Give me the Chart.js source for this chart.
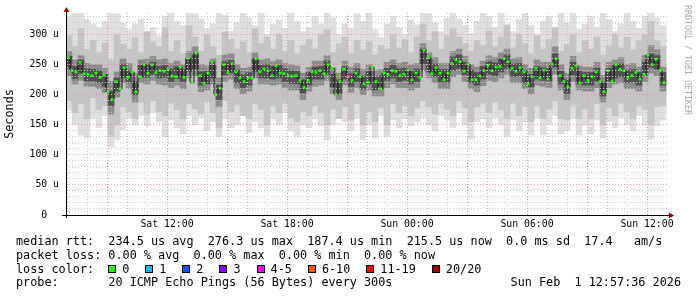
<!DOCTYPE html>
<html>
<head>
<meta charset="utf-8">
<script src="https://cdn.jsdelivr.net/npm/chart.js@4.4.1/dist/chart.umd.min.js"></script>
<style>
  body { margin: 0; background: #fff; }
  #wrap { position: relative; width: 697px; height: 297px; font-family: "DejaVu Sans Mono", monospace; color: #000; }
  #chart { position: absolute; left: 0; top: 0; }
  .ln { position: absolute; left: 16px; font-size: 11.8px; line-height: 14px; white-space: pre; }
  #colors { display: flex; align-items: center; }
  #colors .box { width: 8px; height: 8px; box-sizing: border-box; border: 1px solid #000; margin-right: 6px; }
  #colors .lab { margin-right: 16px; }
  #stamp { position: absolute; right: 16px; top: 275px; font-size: 11.8px; line-height: 14px; white-space: pre; }
  #mark { position: absolute; left: 683px; top: 5px; writing-mode: vertical-rl; font-size: 8.3px; color: #aaa; white-space: pre; }
</style>
</head>
<body>
<div id="wrap">
  <canvas id="chart" width="697" height="297"></canvas>
  <div class="ln" id="l1" style="top:234px"></div>
  <div class="ln" id="l2" style="top:248px"></div>
  <div class="ln" id="colors" style="top:262px"></div>
  <div class="ln" id="l4" style="top:275px"></div>
  <div id="stamp">Sun Feb  1 12:57:36 2026</div>
  <div id="mark">RRDTOOL / TOBI OETIKER</div>
</div>
<script>
// time axis in hours since Sat 00:00
const xStart = 6.95;
const xEnd = 37.0;
const tickHours = [12, 18, 24, 30, 36];
const tickLabels = ["Sat 12:00", "Sat 18:00", "Sun 00:00", "Sun 06:00", "Sun 12:00"];
const yMax = 336;
const yLabelValues = [0, 50, 100, 150, 200, 250, 300];
const yLabels = ["0  ", "50 u", "100 u", "150 u", "200 u", "250 u", "300 u"];

// median rtt (us), one value every 12 minutes starting 07:03
const medianStart = 7.05;
const medianStep = 0.2;
const medianRtt = [
  262, 240, 238, 254, 235, 234, 232, 236, 229, 233,
  205, 192, 222, 210, 245, 229, 238, 205, 230, 250,
  236, 250, 237, 240, 239, 242, 231, 230, 246, 229,
  261, 220, 270, 232, 219, 236, 255, 200,
  211, 250, 237, 252, 238, 228, 222, 228, 228, 260,
  238, 243, 240, 232, 248, 236, 235, 232, 231, 232,
  224, 212, 224, 238, 237, 240, 235, 250, 244, 200,
  222, 243, 230, 224, 236, 230, 218,
  221, 246, 222, 210, 236, 234, 240, 239, 232, 234,
  241, 225, 236, 229, 274, 262, 235, 245, 236, 225,
  236, 252, 258, 255, 239, 251, 225, 225, 231, 240,
  249, 240, 246, 247, 260, 255, 244, 239,
  245, 238, 218, 230, 244, 228, 241, 226, 251, 260,
  232, 222, 213, 244, 248, 220, 232, 224, 230, 238,
  222, 205, 240, 222, 250, 242, 240, 229, 232, 237,
  226, 234, 266, 250, 259, 240, 220
];

// smoke (ping spread, us), one column every 18 minutes starting 07:06
const smokeStart = 7.1;
const smokeStep = 0.3;
const lightHi = [
  330, 336, 337, 325, 318, 312, 322, 337, 335, 320,
  308, 318, 326, 304, 312, 298, 330, 337, 322, 315,
  337, 335, 326, 310, 318, 337, 332, 305, 320, 337,
  328, 315, 337, 300, 318, 325, 310, 337, 322, 305,
  312, 330, 318, 337, 328, 300, 318, 310, 335, 322,
  337, 308, 295, 318, 330, 312, 300, 325, 316, 337,
  337, 320, 305, 328, 337, 326, 315, 302, 322, 337,
  330, 312, 337, 318, 305, 326, 337, 315, 300, 322,
  330, 310, 337, 320, 337, 308, 318, 330, 312, 337,
  325, 305, 318, 337, 322, 310, 330, 337, 328, 315
];
const lightLo = [
  175, 150, 133, 128, 160, 145, 165, 113, 125, 142,
  160, 150, 165, 148, 170, 155, 130, 158, 145, 135,
  165, 150, 162, 140, 155, 130, 160, 145, 150, 168,
  137, 155, 145, 131, 160, 150, 170, 140, 130, 150,
  145, 160, 148, 125, 150, 170, 155, 140, 160, 125,
  150, 128, 165, 130, 158, 145, 160, 148, 155, 162,
  150, 140, 165, 158, 145, 170, 150, 127, 155, 160,
  145, 162, 150, 130, 158, 140, 155, 133, 160, 133,
  150, 165, 135, 140, 160, 133, 150, 135, 158, 128,
  155, 145, 162, 150, 140, 165, 150, 126, 148, 158
];
const midHi = [
  298, 280, 310, 275, 290, 270, 286, 258, 300, 284,
  276, 295, 270, 305, 288, 280, 312, 272, 290, 268,
  315, 296, 272, 300, 280, 266, 304, 292, 276, 288,
  270, 310, 285, 296, 276, 300, 272, 290, 268, 282,
  292, 276, 300, 308, 270, 285, 296, 268, 290, 274,
  288, 266, 282, 276, 300, 278, 292, 270, 296, 318,
  290, 305, 276, 298, 310, 296, 285, 272, 290, 282,
  306, 280, 296, 315, 278, 300, 285, 268, 298, 276,
  292, 312, 272, 284, 300, 270, 290, 276, 296, 266,
  282, 300, 278, 296, 275, 290, 300, 322, 290, 280
];
const midLo = [
  190, 170, 185, 160, 195, 175, 182, 130, 150, 180,
  172, 160, 188, 168, 190, 172, 165, 186, 175, 160,
  185, 176, 168, 188, 170, 145, 190, 172, 184, 165,
  160, 185, 175, 150, 182, 170, 186, 162, 155, 172,
  165, 182, 170, 150, 176, 160, 180, 158, 185, 150,
  172, 155, 178, 150, 185, 170, 182, 165, 178, 190,
  180, 168, 186, 176, 165, 190, 178, 155, 180, 186,
  170, 188, 175, 160, 186, 165, 180, 155, 182, 160,
  176, 190, 160, 158, 184, 160, 176, 160, 185, 150,
  178, 165, 186, 172, 160, 182, 176, 150, 180, 182
];
const darkHi = [
  272, 258, 265, 252, 250, 250, 244, 222, 238, 260,
  252, 236, 258, 260, 264, 258, 260, 252, 256, 250,
  272, 280, 250, 248, 260, 228, 266, 268, 250, 244,
  246, 270, 258, 260, 255, 258, 252, 250, 248, 236,
  246, 256, 256, 265, 245, 236, 256, 246, 252, 242,
  250, 240, 242, 254, 258, 252, 254, 250, 252, 285,
  270, 262, 252, 252, 272, 276, 264, 250, 246, 256,
  265, 262, 270, 276, 260, 262, 250, 244, 258, 254,
  254, 280, 250, 236, 264, 248, 246, 246, 254, 232,
  254, 258, 262, 250, 252, 246, 266, 282, 275, 246
];
const darkLo = [
  232, 218, 224, 214, 214, 210, 204, 168, 196, 220,
  210, 188, 220, 218, 224, 218, 216, 212, 216, 210,
  228, 232, 205, 208, 218, 180, 222, 226, 210, 202,
  206, 228, 218, 218, 216, 218, 212, 208, 208, 192,
  206, 214, 216, 224, 202, 192, 216, 204, 212, 200,
  208, 198, 198, 212, 218, 212, 212, 208, 212, 240,
  228, 220, 210, 210, 230, 234, 222, 210, 205, 215,
  224, 222, 228, 234, 220, 220, 210, 202, 216, 214,
  212, 234, 208, 192, 222, 208, 206, 206, 212, 188,
  212, 218, 220, 210, 210, 206, 222, 236, 232, 206
];
const coreHi = [
  264, 247, 258, 243, 242, 240, 234, 206, 228, 250,
  241, 222, 249, 250, 254, 247, 249, 243, 247, 242,
  260, 266, 238, 239, 249, 216, 255, 257, 241, 233,
  237, 261, 249, 250, 247, 249, 243, 240, 239, 225,
  237, 246, 247, 256, 234, 225, 247, 235, 243, 231,
  239, 229, 231, 244, 249, 243, 244, 239, 243, 276,
  260, 251, 242, 242, 263, 266, 254, 241, 237, 247,
  255, 253, 260, 266, 251, 252, 241, 234, 247, 245,
  244, 268, 239, 225, 254, 239, 237, 237, 244, 220,
  244, 249, 251, 241, 242, 237, 254, 268, 265, 237
];
const coreLo = [
  244, 227, 236, 223, 223, 220, 214, 182, 206, 229,
  221, 200, 229, 229, 234, 228, 229, 222, 227, 222,
  239, 243, 216, 218, 228, 192, 233, 236, 220, 212,
  216, 239, 228, 228, 226, 228, 222, 219, 218, 203,
  216, 226, 226, 234, 213, 203, 226, 214, 222, 210,
  218, 208, 210, 224, 228, 222, 224, 218, 222, 252,
  238, 230, 221, 221, 241, 244, 233, 220, 216, 226,
  234, 232, 238, 244, 230, 231, 220, 213, 226, 224,
  223, 246, 218, 202, 233, 218, 216, 216, 223, 198,
  223, 228, 230, 220, 221, 216, 233, 246, 243, 216
];

// legend
const statLines = [
  "median rtt:  234.5 us avg  276.3 us max  187.4 us min  215.5 us now  0.0 ms sd  17.4   am/s",
  "packet loss: 0.00 % avg  0.00 % max  0.00 % min  0.00 % now",
  "probe:       20 ICMP Echo Pings (56 Bytes) every 300s"
];
const lossLabels = ["0", "1", "2", "3", "4-5", "6-10", "11-19", "20/20"];
const lossColors = ["#26ff00", "#00b8ff", "#0059ff", "#7e00ff", "#ff00ff", "#ff5500", "#ff0000", "#a10000"];

document.getElementById("l1").textContent = statLines[0];
document.getElementById("l2").textContent = statLines[1];
document.getElementById("l4").textContent = statLines[2];
const colors = document.getElementById("colors");
colors.innerHTML = '<span style="margin-right:14px">loss color:</span>';
lossLabels.forEach((lab, i) => {
  colors.innerHTML += `<span class="box" style="background:${lossColors[i]}"></span><span class="lab">${lab}</span>`;
});

const smokeX = lightHi.map((v, i) => smokeStart + smokeStep * i);
const medianX = medianRtt.map((v, i) => medianStart + medianStep * i);

function band(lo, hi) {
  return smokeX.map((x, i) => ({ x: x, y: [lo[i], hi[i]] }));
}

const redGrid = "#e69a9a";
const greyGrid = "#c6c6c6";

const axisPlugin = {
  id: "axisArrows",
  afterDraw(chart) {
    const { ctx, chartArea: a } = chart;
    ctx.save();
    ctx.strokeStyle = "#000";
    ctx.lineWidth = 1;
    ctx.beginPath();
    ctx.moveTo(a.left - 4, a.bottom + 0.5);
    ctx.lineTo(a.right + 3, a.bottom + 0.5);
    ctx.moveTo(a.left + 0.5, a.bottom + 3);
    ctx.lineTo(a.left + 0.5, a.top - 3);
    ctx.stroke();
    ctx.fillStyle = "#a00000";
    ctx.beginPath();
    ctx.moveTo(a.left + 0.5, a.top - 6);
    ctx.lineTo(a.left - 2.5, a.top - 1);
    ctx.lineTo(a.left + 3.5, a.top - 1);
    ctx.closePath();
    ctx.fill();
    ctx.beginPath();
    ctx.moveTo(a.right + 7, a.bottom + 0.5);
    ctx.lineTo(a.right + 2, a.bottom - 2.5);
    ctx.lineTo(a.right + 2, a.bottom + 3.5);
    ctx.closePath();
    ctx.fill();
    ctx.restore();
  }
};

const tickFont = { family: "DejaVu Sans Mono", size: 9.8 };

new Chart(document.getElementById("chart"), {
  type: "bar",
  data: {
    datasets: [
      {
        type: "line",
        data: medianX.map((x, i) => ({ x: x, y: medianRtt[i] })),
        borderColor: "#111111",
        borderWidth: 1,
        stepped: "middle",
        pointStyle: "line",
        pointRadius: 1.6,
        pointBorderWidth: 2.6,
        pointBorderColor: "#22ff00",
        pointBackgroundColor: "#22ff00",
        order: 0
      },
      { data: band(coreLo, coreHi), backgroundColor: "#505050", order: 1 },
      { data: band(darkLo, darkHi), backgroundColor: "#8c8c8c", order: 2 },
      { data: band(midLo, midHi), backgroundColor: "#c4c4c4", order: 3 },
      { data: band(lightLo, lightHi), backgroundColor: "#dfdfdf", order: 4 }
    ]
  },
  options: {
    responsive: false,
    animation: false,
    events: [],
    layout: { padding: { left: 0, right: 30, top: 13, bottom: 0 } },
    datasets: {
      bar: { grouped: false, barPercentage: 1, categoryPercentage: 1, borderWidth: 0 }
    },
    plugins: { legend: { display: false }, tooltip: { enabled: false } },
    scales: {
      x: {
        type: "linear",
        min: xStart,
        max: xEnd,
        offset: false,
        afterBuildTicks: (s) => {
          const t = [];
          for (let h = 7; h <= 36; h++) t.push({ value: h });
          s.ticks = t;
        },
        afterFit: (s) => { s.height = 82; },
        ticks: {
          autoSkip: false,
          maxRotation: 0,
          padding: 4,
          color: "#000",
          font: tickFont,
          callback: (v) => {
            const k = tickHours.indexOf(v);
            return k >= 0 ? tickLabels[k] : "";
          }
        },
        grid: {
          z: 1,
          offset: false,
          drawTicks: false,
          lineWidth: 1,
          color: (c) => (c.tick && c.tick.value % 3 === 0 ? redGrid : greyGrid)
        },
        border: { display: false, dash: [1, 2] }
      },
      y: {
        min: 0,
        max: yMax,
        afterBuildTicks: (s) => {
          const t = [];
          for (let v = 0; v <= 330; v += 10) t.push({ value: v });
          s.ticks = t;
        },
        afterFit: (s) => { s.width = 66; },
        ticks: {
          autoSkip: false,
          padding: 7,
          color: "#000",
          font: tickFont,
          callback: (v) => {
            const k = yLabelValues.indexOf(v);
            return k >= 0 ? yLabels[k] : "";
          }
        },
        grid: {
          z: 1,
          drawTicks: false,
          lineWidth: 1,
          color: (c) => (c.tick && c.tick.value % 50 === 0 ? redGrid : greyGrid)
        },
        border: { display: false, dash: [1, 2] },
        title: {
          display: true,
          text: "Seconds",
          color: "#000",
          font: { family: "DejaVu Sans Mono", size: 11.8 },
          padding: { top: 3, bottom: 0 }
        }
      }
    }
  },
  plugins: [axisPlugin]
});
</script>
</body>
</html>
